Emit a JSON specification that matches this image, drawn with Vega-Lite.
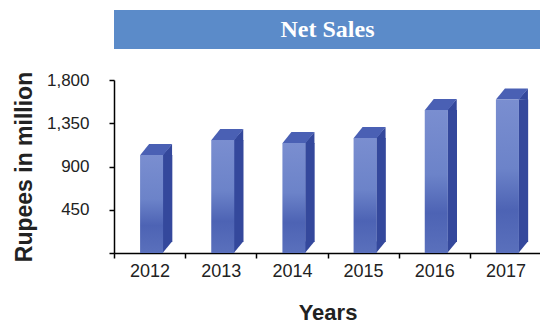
{
  "$schema": "https://vega.github.io/schema/vega-lite/v6.json",
  "padding": {"left": 13, "top": 10, "right": 0, "bottom": 2},
  "background": "white",
  "config": {"view": {"stroke": null}, "font": "Liberation Sans"},
  "spacing": 31,
  "bounds": "flush",
  "vconcat": [
    {
      "width": 427,
      "height": 39,
      "view": {"fill": "#5B8BC9", "stroke": null},
      "data": {"values": [{"title": "Net Sales"}]},
      "mark": {"type": "text", "font": "Liberation Serif", "fontWeight": "bold", "fontSize": 24, "color": "#FFFFFF"},
      "encoding": {"text": {"field": "title", "type": "nominal"}}
    },
    {
      "width": 427,
      "height": 173,
      "data": {"values": [
        {"year": "2012", "value": 1020},
        {"year": "2013", "value": 1176},
        {"year": "2014", "value": 1144},
        {"year": "2015", "value": 1196},
        {"year": "2016", "value": 1488},
        {"year": "2017", "value": 1598}
      ]},
      "encoding": {
        "x": {
          "field": "year", "type": "ordinal",
          "scale": {"paddingInner": 0, "paddingOuter": 0},
          "axis": {
            "title": "Years", "labelAngle": 0, "tickBand": "extent",
            "domainColor": "#000000", "domainWidth": 1.5, "tickColor": "#000000", "tickSize": 5, "tickWidth": 1.5,
            "labelPadding": 4, "labelFontSize": 18, "labelColor": "#222222",
            "titleFontSize": 22, "titleFontWeight": "bold", "titleColor": "#222222", "titlePadding": 22
          }
        },
        "y": {
          "field": "value", "type": "quantitative",
          "scale": {"domain": [0, 1800], "nice": false},
          "axis": {
            "values": [0, 450, 900, 1350, 1800],
            "labelExpr": "datum.value == 0 ? '' : format(datum.value, ',')",
            "title": "Rupees in million", "grid": false,
            "domainColor": "#000000", "domainWidth": 1.5, "tickColor": "#000000", "tickSize": 5, "tickWidth": 1.5,
            "labelPadding": 20, "labelFontSize": 17, "labelColor": "#222222",
            "titleFontSize": 23, "titleFontWeight": "bold", "titleColor": "#222222", "titlePadding": 10
          }
        }
      },
      "layer": [
        {
          "mark": {"type": "bar", "size": 9.5, "xOffset": 18, "y2Offset": -11, "color": "#34489C"},
          "encoding": {"y2": {"datum": 0}}
        },
        {
          "mark": {"type": "point", "shape": "M 1.1 0 L 2.05 -1.1 L 2.05 0.05 Z", "size": 400, "filled": true, "opacity": 1, "strokeWidth": 0, "xOffset": 2, "color": "#34489C"}
        },
        {
          "mark": {"type": "point", "shape": "M 1.1 -1.15 L 2.05 -1.15 L 1.1 0 Z", "size": 400, "filled": true, "opacity": 1, "strokeWidth": 0, "xOffset": 2, "color": "#34489C"},
          "encoding": {"y": {"datum": 0, "type": "quantitative"}}
        },
        {
          "mark": {"type": "point", "shape": "M -1.15 0.02 L 1.15 0.02 L 2.05 -1.1 L -0.25 -1.1 Z", "size": 400, "filled": true, "opacity": 1, "strokeWidth": 0, "xOffset": 2, "color": "#4A60B4"}
        },
        {
          "mark": {
            "type": "bar", "size": 23, "xOffset": 2,
            "color": {"gradient": "linear", "x1": 0, "y1": 0, "x2": 0, "y2": 1, "stops": [
              {"offset": 0, "color": "#7A8ED0"},
              {"offset": 0.45, "color": "#6C83C9"},
              {"offset": 0.72, "color": "#4D63B4"},
              {"offset": 1, "color": "#5A70BC"}
            ]}
          },
          "encoding": {"y2": {"datum": 0}}
        }
      ]
    }
  ]
}
